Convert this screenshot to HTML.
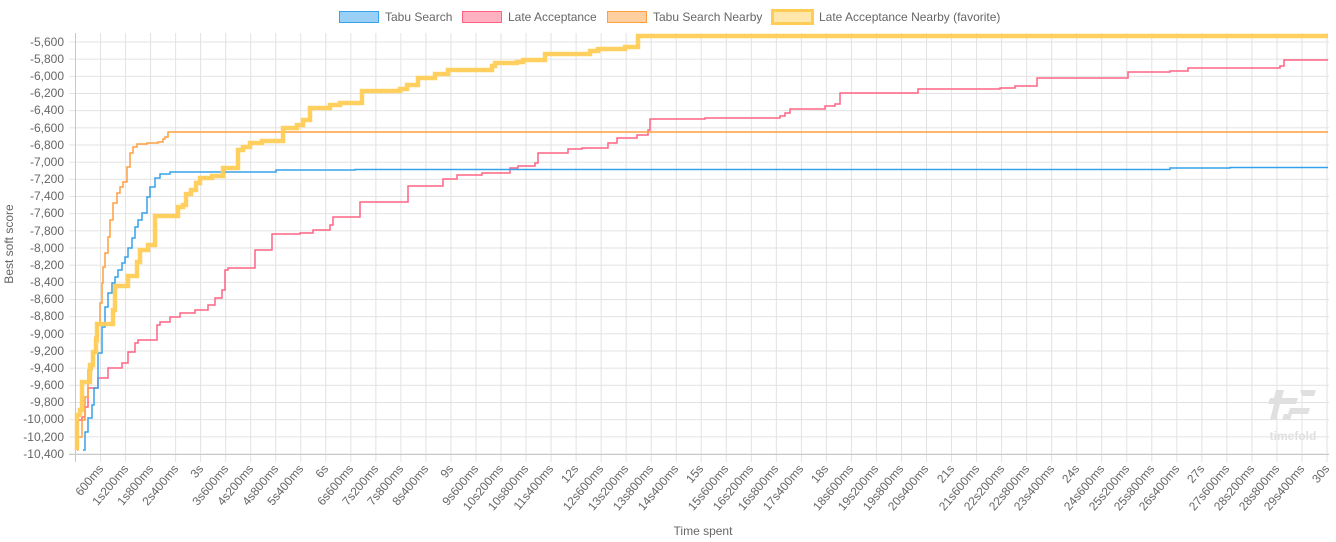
<!DOCTYPE html>
<html><head><meta charset="utf-8"><style>
html,body{margin:0;padding:0;background:#fff;}
svg{display:block;font-family:"Liberation Sans",sans-serif;}
</style></head><body>
<svg width="1336" height="542" viewBox="0 0 1336 542" xmlns="http://www.w3.org/2000/svg">
<defs>
<pattern id="vg" patternUnits="userSpaceOnUse" x="75" y="0" width="25.03" height="542"><line x1="0.5" y1="0" x2="0.5" y2="542" stroke="#e2e2e2" stroke-width="1"/></pattern>
<pattern id="hg" patternUnits="userSpaceOnUse" x="0" y="41.5" width="1336" height="17.1667"><line x1="0" y1="0.5" x2="1336" y2="0.5" stroke="#e2e2e2" stroke-width="1"/></pattern>
</defs>
<rect x="75" y="33" width="1254" height="429" fill="url(#vg)"/>
<rect x="69" y="41" width="1260" height="414" fill="url(#hg)"/>
<line x1="75.5" y1="33" x2="75.5" y2="462" stroke="#c8c8c8"/>
<line x1="69" y1="454.5" x2="1329" y2="454.5" stroke="#c8c8c8"/>

<!-- watermark -->
<g fill="#e0e0e0">
<polygon points="1276,390 1284,390 1282,398 1298,398 1296,404 1280,404 1276,420 1270,420 1274,404 1268,404 1270,398 1274,398"/>
<polygon points="1300,390 1316,390 1314,396 1302,396"/>
<polygon points="1290,408 1310,408 1308,414 1288,414"/>
<polygon points="1284,414 1292,414 1290,420 1282,420"/>
<text x="1293" y="440" font-size="12" font-weight="bold" text-anchor="middle">timefold</text>
</g>

<!-- y labels -->
<g font-size="12" fill="#666" text-anchor="end">
<text x="64" y="46">-5,600</text><text x="64" y="63">-5,800</text><text x="64" y="80">-6,000</text><text x="64" y="97">-6,200</text><text x="64" y="114">-6,400</text><text x="64" y="132">-6,600</text><text x="64" y="149">-6,800</text><text x="64" y="166">-7,000</text><text x="64" y="183">-7,200</text><text x="64" y="200">-7,400</text><text x="64" y="217">-7,600</text><text x="64" y="235">-7,800</text><text x="64" y="252">-8,000</text><text x="64" y="269">-8,200</text><text x="64" y="286">-8,400</text><text x="64" y="303">-8,600</text><text x="64" y="320">-8,800</text><text x="64" y="338">-9,000</text><text x="64" y="355">-9,200</text><text x="64" y="372">-9,400</text><text x="64" y="389">-9,600</text><text x="64" y="406">-9,800</text><text x="64" y="423">-10,000</text><text x="64" y="441">-10,200</text><text x="64" y="458">-10,400</text>
</g>
<text transform="translate(13,244) rotate(-90)" font-size="12" fill="#666" text-anchor="middle">Best soft score</text>
<text x="703" y="535" font-size="12" fill="#666" text-anchor="middle">Time spent</text>

<!-- x labels -->
<g font-size="12" fill="#666" text-anchor="end">
<text transform="translate(104,469) rotate(-50)">600ms</text>
<text transform="translate(129,469) rotate(-50)">1s200ms</text>
<text transform="translate(154,469) rotate(-50)">1s800ms</text>
<text transform="translate(179,469) rotate(-50)">2s400ms</text>
<text transform="translate(204,469) rotate(-50)">3s</text>
<text transform="translate(229,469) rotate(-50)">3s600ms</text>
<text transform="translate(254,469) rotate(-50)">4s200ms</text>
<text transform="translate(279,469) rotate(-50)">4s800ms</text>
<text transform="translate(304,469) rotate(-50)">5s400ms</text>
<text transform="translate(329,469) rotate(-50)">6s</text>
<text transform="translate(354,469) rotate(-50)">6s600ms</text>
<text transform="translate(379,469) rotate(-50)">7s200ms</text>
<text transform="translate(404,469) rotate(-50)">7s800ms</text>
<text transform="translate(429,469) rotate(-50)">8s400ms</text>
<text transform="translate(454,469) rotate(-50)">9s</text>
<text transform="translate(479,469) rotate(-50)">9s600ms</text>
<text transform="translate(504,469) rotate(-50)">10s200ms</text>
<text transform="translate(529,469) rotate(-50)">10s800ms</text>
<text transform="translate(554,469) rotate(-50)">11s400ms</text>
<text transform="translate(579,469) rotate(-50)">12s</text>
<text transform="translate(604,469) rotate(-50)">12s600ms</text>
<text transform="translate(629,469) rotate(-50)">13s200ms</text>
<text transform="translate(654,469) rotate(-50)">13s800ms</text>
<text transform="translate(679,469) rotate(-50)">14s400ms</text>
<text transform="translate(704,469) rotate(-50)">15s</text>
<text transform="translate(729,469) rotate(-50)">15s600ms</text>
<text transform="translate(754,469) rotate(-50)">16s200ms</text>
<text transform="translate(779,469) rotate(-50)">16s800ms</text>
<text transform="translate(804,469) rotate(-50)">17s400ms</text>
<text transform="translate(829,469) rotate(-50)">18s</text>
<text transform="translate(854,469) rotate(-50)">18s600ms</text>
<text transform="translate(879,469) rotate(-50)">19s200ms</text>
<text transform="translate(904,469) rotate(-50)">19s800ms</text>
<text transform="translate(929,469) rotate(-50)">20s400ms</text>
<text transform="translate(955,469) rotate(-50)">21s</text>
<text transform="translate(980,469) rotate(-50)">21s600ms</text>
<text transform="translate(1005,469) rotate(-50)">22s200ms</text>
<text transform="translate(1030,469) rotate(-50)">22s800ms</text>
<text transform="translate(1055,469) rotate(-50)">23s400ms</text>
<text transform="translate(1080,469) rotate(-50)">24s</text>
<text transform="translate(1105,469) rotate(-50)">24s600ms</text>
<text transform="translate(1130,469) rotate(-50)">25s200ms</text>
<text transform="translate(1155,469) rotate(-50)">25s800ms</text>
<text transform="translate(1180,469) rotate(-50)">26s400ms</text>
<text transform="translate(1205,469) rotate(-50)">27s</text>
<text transform="translate(1230,469) rotate(-50)">27s600ms</text>
<text transform="translate(1255,469) rotate(-50)">28s200ms</text>
<text transform="translate(1280,469) rotate(-50)">28s800ms</text>
<text transform="translate(1305,469) rotate(-50)">29s400ms</text>
<text transform="translate(1330,469) rotate(-50)">30s</text>
</g>

<!-- series -->
<g fill="none" stroke-linejoin="miter">
<!-- Late Acceptance -->
<polyline stroke="#ff6384" stroke-width="1.5" points="77,450 77,420 82,420 82,417 85,417 85,407 88,407 88,388 98,388 98,378 108,378 108,368 122,368 122,363 128,363 128,352 135,352 135,343 138,343 138,340 157,340 157,325 160,325 160,322 170,322 170,317 180,317 180,313 195,313 195,310 208,310 208,305 215,305 215,298 222,298 222,290 225,290 225,270 228,270 228,268 248,268 248,268 255,268 255,250 272,250 272,234 300,234 300,233 313,233 313,230 330,230 330,225 333,225 333,217 338,217 338,217 360,217 360,202 408,202 408,186 443,186 443,179 457,179 457,175 482,175 482,173 510,173 510,168 518,168 518,166 535,166 535,163 538,163 538,153 568,153 568,149 582,149 582,148 608,148 608,143 617,143 617,138 637,138 637,135 648,135 648,130 650,130 650,119 705,119 705,118 780,118 780,116 785,116 785,113 790,113 790,109 825,109 825,106 835,106 835,104 840,104 840,93 918,93 918,89 1000,89 1000,88 1015,88 1015,86 1037,86 1037,78 1128,78 1128,72 1170,72 1170,71 1188,71 1188,68 1280,68 1280,66 1284,66 1284,60 1328,60"/>
<!-- Tabu Search -->
<polyline stroke="#36a2eb" stroke-width="1.5" points="83,450 83,450 85,450 85,432 88,432 88,418 92,418 92,405 94,405 94,388 98,388 98,353 102,353 102,327 105,327 105,307 108,307 108,293 112,293 112,283 115,283 115,277 118,277 118,270 122,270 122,263 125,263 125,257 128,257 128,248 132,248 132,238 135,238 135,227 138,227 138,220 142,220 142,213 147,213 147,197 150,197 150,187 155,187 155,178 160,178 160,174 170,174 170,172 276,172 276,170 355,170 355,169.5 1170,169.5 1170,168 1230,168 1230,167.5 1328,167.5"/>
<!-- Tabu Search Nearby -->
<polyline stroke="#ff9f40" stroke-width="1.5" points="77,450 78,450 78,437 82,437 82,420 85,420 85,397 88,397 88,370 92,370 92,353 95,353 95,337 97,337 97,323 100,323 100,303 102,303 102,283 103,283 103,267 105,267 105,253 108,253 108,237 110,237 110,220 113,220 113,203 117,203 117,193 120,193 120,187 123,187 123,182 127,182 127,167 130,167 130,153 133,153 133,147 137,147 137,144 147,144 147,143 158,143 158,142 160,142 160,142 163,142 163,139 165,139 165,137 168,137 168,132 1328,132"/>
<!-- Late Acceptance Nearby -->
<polyline stroke="#ffcd56" stroke-opacity="0.95" stroke-width="4.5" points="77,450 77,415 80,415 80,410 82,410 82,382 90,382 90,365 93,365 93,352 94,352 96,352 96,340 97,340 97,324 113,324 113,310 115,310 115,286 128,286 128,276 137,276 137,262 140,262 140,250 148,250 148,245 155,245 155,216 178,216 178,207 183,207 183,205 186,205 186,194 191,194 191,190 196,190 196,183 200,183 200,178 212,178 212,176 223,176 223,168 238,168 238,150 243,150 243,147 250,147 250,143 262,143 262,141 283,141 283,128 297,128 297,125 303,125 303,120 310,120 310,108 330,108 330,105 340,105 340,103 362,103 362,91 400,91 400,89 407,89 407,85 418,85 418,78 435,78 435,74 448,74 448,70 492,70 492,66 495,66 495,63 517,63 517,62 523,62 523,60 545,60 545,54 590,54 590,51 598,51 598,49 625,49 625,47 638,47 638,36 1328,36"/>
</g>

<!-- legend -->
<g font-size="12" fill="#666">
<rect x="339.5" y="11.5" width="39" height="11" fill="rgba(54,162,235,0.5)" stroke="#36a2eb"/>
<text x="385" y="21">Tabu Search</text>
<rect x="462.5" y="11.5" width="39" height="11" fill="rgba(255,99,132,0.5)" stroke="#ff6384"/>
<text x="508" y="21">Late Acceptance</text>
<rect x="607.5" y="11.5" width="39" height="11" fill="rgba(255,159,64,0.5)" stroke="#ff9f40"/>
<text x="653" y="21">Tabu Search Nearby</text>
<rect x="772.5" y="10.5" width="40" height="13" fill="rgba(255,205,86,0.5)" stroke="#ffcd56" stroke-width="3"/>
<text x="819" y="21">Late Acceptance Nearby (favorite)</text>
</g>
</svg>
</body></html>
